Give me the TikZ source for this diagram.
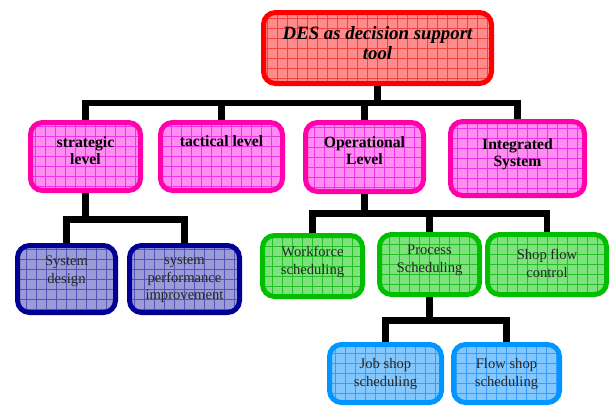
\documentclass[tikz,border=0pt]{standalone}
\usepackage{fontspec}
\setmainfont{Liberation Serif}

% box colours: border, fill, grid
\definecolor{redB}{RGB}{255,0,0}
\definecolor{redF}{RGB}{255,140,140}
\definecolor{redG}{RGB}{245,40,40}
\definecolor{magB}{RGB}{255,0,170}
\definecolor{magF}{RGB}{255,140,240}
\definecolor{magG}{RGB}{235,20,235}
\definecolor{navB}{RGB}{0,0,150}
\definecolor{navF}{RGB}{155,155,215}
\definecolor{navG}{RGB}{60,60,175}
\definecolor{grnB}{RGB}{0,190,0}
\definecolor{grnF}{RGB}{125,225,125}
\definecolor{grnG}{RGB}{10,180,10}
\definecolor{cyaB}{RGB}{0,150,255}
\definecolor{cyaF}{RGB}{130,200,255}
\definecolor{cyaG}{RGB}{30,140,255}

\tikzset{
  tile/.style={draw, line width=5pt, rounded corners=12pt, inner sep=0pt},
  gridded/.style={path picture={
      \draw[#1, line width=0.45pt, opacity=0.75]
        ([shift={(-10pt,-10pt)}]path picture bounding box.south west) grid[step=10pt]
        ([shift={(10pt,10pt)}]path picture bounding box.north east);}},
  redtile/.style={tile, draw=redB, fill=redF, gridded=redG},
  magtile/.style={tile, draw=magB, fill=magF, gridded=magG},
  navtile/.style={tile, draw=navB, fill=navF, gridded=navG},
  grntile/.style={tile, draw=grnB, fill=grnF, gridded=grnG},
  cyatile/.style={tile, draw=cyaB, fill=cyaF, gridded=cyaG},
  toptext/.style={align=center, inner sep=0pt,
    font=\fontsize{18.8}{20}\selectfont\bfseries\itshape},
  midtext/.style={align=center, inner sep=0pt,
    font=\fontsize{15.7}{17.5}\selectfont\bfseries},
  lowtext/.style={align=center, inner sep=0pt, text=black!85,
    font=\fontsize{14.6}{17.8}\selectfont},
  link/.style={draw=black, line width=6.5pt, line join=miter, line cap=butt},
}

\begin{document}
\begin{tikzpicture}[x=1pt, y=-1pt]
\useasboundingbox (0,0) rectangle (611,407);

% bar levels of the tree
\coordinate (barA) at (0,103);
\coordinate (barB) at (0,219.5);
\coordinate (barC) at (0,213.5);
\coordinate (barD) at (0,320.5);

% boxes
\node[redtile, minimum width=228pt, minimum height=71pt] (des) at (377.5,48) {};

\node[magtile, minimum width=110pt, minimum height=68pt] (strat) at (85.5,156.5) {};
\node[magtile, minimum width=122pt, minimum height=68pt] (tact) at (221.5,156.5) {};
\node[magtile, minimum width=118pt, minimum height=69pt] (oper) at (364.5,157) {};
\node[magtile, minimum width=134pt, minimum height=74pt] (integ) at (517.5,158.5) {};

\node[navtile, minimum width=98pt, minimum height=67pt] (sysd) at (66.5,279) {};
\node[navtile, minimum width=110pt, minimum height=67pt] (sysp) at (184.5,279) {};

\node[grntile, minimum width=100pt, minimum height=61pt] (work) at (312.5,266) {};
\node[grntile, minimum width=100pt, minimum height=60pt] (proc) at (429.5,264.5) {};
\node[grntile, minimum width=119pt, minimum height=60pt] (shop) at (547,264.5) {};

\node[cyatile, minimum width=112pt, minimum height=58pt] (job) at (385.5,373.5) {};
\node[cyatile, minimum width=106pt, minimum height=58pt] (flow) at (506.5,373.5) {};

% labels
\node[toptext] (des-t) at (377.5,43) {DES as decision support\\tool};
\node[midtext] (strat-t) at (85.5,150.5) {strategic\\level};
\node[midtext] (tact-t) at (221.5,141) {tactical level};
\node[midtext] (oper-t) at (364.5,150.5) {Operational\\Level};
\node[midtext] (integ-t) at (517.5,154) {Integrated\\System};
\node[lowtext] (sysd-t) at (66.5,271) {System\\design};
\node[lowtext] (sysp-t) at (184.5,279.5) {system\\performance\\improvement};
\node[lowtext] (work-t) at (312.5,262) {Workforce\\scheduling};
\node[lowtext] (proc-t) at (429.5,260) {Process\\Scheduling};
\node[lowtext] (shop-t) at (547,263.5) {Shop flow\\control};
\node[lowtext] (job-t) at (385.5,374) {Job shop\\scheduling};
\node[lowtext] (flow-t) at (506.5,374) {Flow shop\\scheduling};

% connectors
\draw[link] (des.south) -- (des.south |- barA);
\draw[link] (strat.north) -- (strat.north |- barA) -- (integ.north |- barA) -- (integ.north);
\draw[link] (tact.north) -- (tact.north |- barA);
\draw[link] (oper.north) -- (oper.north |- barA);

\draw[link] (strat.south) -- (strat.south |- barB);
\draw[link] (sysd.north) -- (sysd.north |- barB) -- (sysp.north |- barB) -- (sysp.north);

\draw[link] (oper.south) -- (oper.south |- barC);
\draw[link] (work.north) -- (work.north |- barC) -- (shop.north |- barC) -- (shop.north);
\draw[link] (proc.north) -- (proc.north |- barC);

\draw[link] (proc.south) -- (proc.south |- barD);
\draw[link] (job.north) -- (job.north |- barD) -- (flow.north |- barD) -- (flow.north);
\end{tikzpicture}
\end{document}
